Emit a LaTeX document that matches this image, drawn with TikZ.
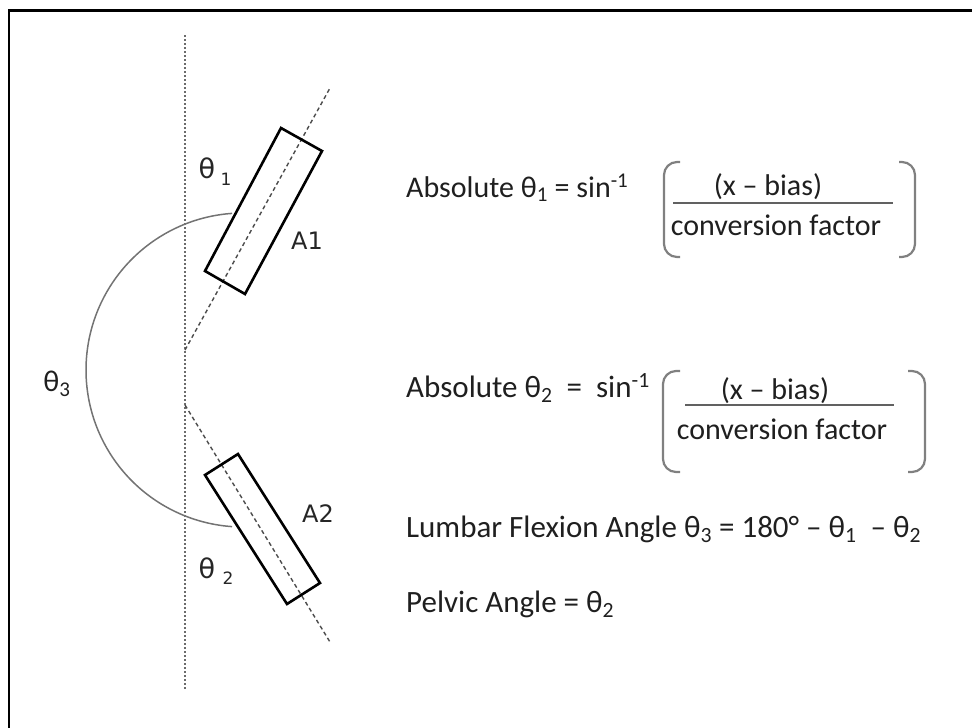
\documentclass[tikz,border=0pt]{standalone}
\usepackage{fontspec}
\setmainfont{Carlito}
\newfontfamily\dvs{DejaVu Sans}
\begin{document}
\begin{tikzpicture}[x=1pt,y=-1pt,
  frame/.style={line width=2.5pt,black},
  plumb/.style={line width=2.5pt,black!58,dash pattern=on 2pt off 2pt},
  axisln/.style={line width=1.4pt,black!70,dash pattern=on 4pt off 3pt},
  sensor/.style={line width=2.6pt,black,line join=miter},
  arcln/.style={line width=1.5pt,black!55},
  brk/.style={line width=2.2pt,black!50,rounded corners=13pt},
  fracln/.style={line width=2.4pt,black!62},
  eqtxt/.style={inner sep=0pt,font=\fontsize{30}{32}\selectfont,text=black!88},
  eqbig/.style={inner sep=0pt,font=\fontsize{31}{33}\selectfont,text=black!88},
  lbl/.style={inner sep=0pt,font=\dvs\fontsize{24}{26}\selectfont,text=black!85},
  thlbl/.style={inner sep=0pt,font=\dvs\fontsize{27}{28}\selectfont,text=black!85},
  sublbl/.style={inner sep=0pt,font=\dvs\fontsize{17}{18}\selectfont,text=black!85}]
\useasboundingbox (0,0) rectangle (972,728);
% frame (only left and top edges visible)
\draw[frame] (9,728) -- (9,10.5) -- (972,10.5);
% vertical reference line
\coordinate (vt) at (185,35);
\coordinate (vb) at (185,690);
\draw[plumb] (vt) -- (vb);
% segment axes
\coordinate (u0) at (185,350);
\coordinate (u1) at (330,88);
\coordinate (l0) at (185,405);
\coordinate (l1) at (330,642);
\draw[axisln] (u0) -- (u1);
\draw[axisln] (l0) -- (l1);
% sensors
\draw[sensor] (281,128) -- (322,151) -- (245,294) -- (205,271) -- cycle;
\draw[sensor] (238,454) -- (205,475) -- (287,604) -- (320,583) -- cycle;
% theta3 arc
\draw[arcln] plot[domain=94:266,samples=80,smooth] ({243+157*cos(\x)},{370+157*sin(\x)});
% left labels
\node[thlbl] (t1) at (207,168) {θ};
\node[sublbl] (t1s) at (226,179) {1};
\node[lbl] (a1) at (307,241) {A1};
\node[lbl] (a2) at (318,514) {A2};
\node[thlbl] (t2) at (207,568) {θ};
\node[sublbl] (t2s) at (228,578) {2};
\node[inner sep=0pt,font=\fontsize{30}{32}\selectfont,text=black!88] (t3) at (57,384) {θ\textsubscript{3}};
% equation 1
\node[eqtxt,anchor=base west] (e1) at (406,197) {Absolute θ\textsubscript{1} = sin\textsuperscript{-1}};
\draw[brk] (680,162) -- (664,162) -- (664,257) -- (680,257);
\draw[brk] (899,162) -- (915,162) -- (915,257) -- (899,257);
\node[eqtxt,anchor=base] (n1) at (768,195) {(x – bias)};
\draw[fracln] (673,203) -- (893,203);
\node[eqtxt,anchor=base] (d1) at (776,235) {conversion factor};
% equation 2
\node[eqbig,anchor=base west] (e2) at (406,397) {Absolute θ\textsubscript{2}\ \ =\ \ sin\textsuperscript{-1}};
\draw[brk] (680,371) -- (663,371) -- (663,472) -- (680,472);
\draw[brk] (908,371) -- (925,371) -- (925,472) -- (908,472);
\node[eqtxt,anchor=base] (n2) at (775,399) {(x – bias)};
\draw[fracln] (685,405) -- (894,405);
\node[eqtxt,anchor=base] (d2) at (782,439) {conversion factor};
% lumbar and pelvic
\node[eqbig,anchor=base west] (e3) at (406,537) {Lumbar Flexion Angle θ\textsubscript{3} = 180° – θ\textsubscript{1}\ \ – θ\textsubscript{2}};
\node[eqbig,anchor=base west] (e4) at (406,612) {Pelvic Angle = θ\textsubscript{2}};
\end{tikzpicture}
\end{document}
